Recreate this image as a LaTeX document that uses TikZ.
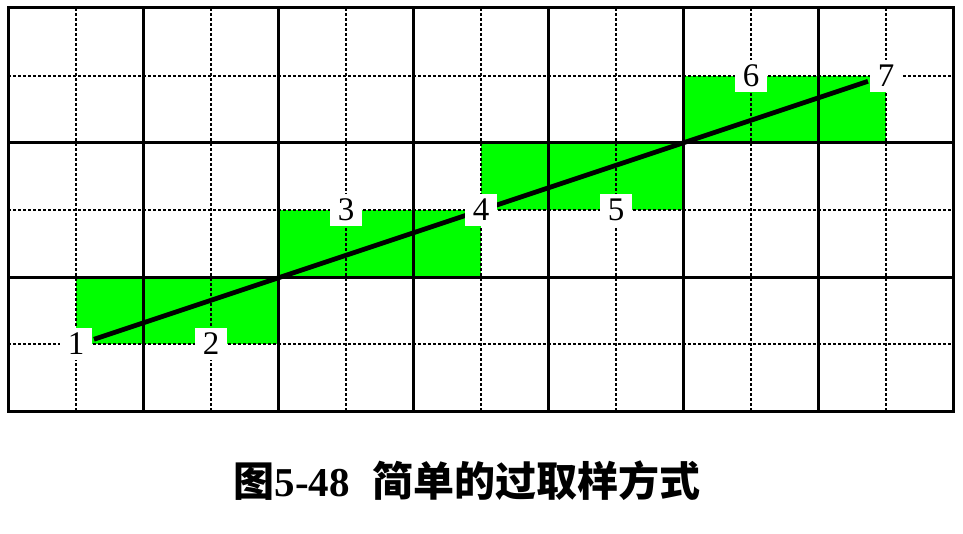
\documentclass[tikz,border=0pt]{standalone}
\usepackage{fontspec}
\setmainfont{Liberation Serif}
\newfontfamily\cjk{Noto Sans CJK SC}
\definecolor{cellgreen}{RGB}{0,255,0}
\tikzset{
  cell/.style={fill=cellgreen, draw=none},
  subgrid/.style={line width=1.5pt, dash pattern=on 3pt off 2pt},
  maingrid/.style={line width=3pt},
  sampleline/.style={line width=4.8pt},
  num/.style={fill=white, inner sep=0pt, minimum width=32pt, minimum height=32pt, font=\fontsize{33}{33}\selectfont},
  caption/.style={font=\fontsize{41}{41}\selectfont\bfseries}
}
\begin{document}
\begin{tikzpicture}[x=1pt,y=-1pt]
\useasboundingbox (0,0) rectangle (963,534);
% green cells
\fill[cell] (76,278) rectangle (278,344);
\fill[cell] (278,210) rectangle (481,278);
\fill[cell] (481,143) rectangle (683,210);
\fill[cell] (683,76) rectangle (886,143);
% dashed sub grid
\foreach \x in {76,211,346,481,616,751,886} \draw[subgrid] (\x,8) -- (\x,411);
\foreach \y in {76,210,344} \draw[subgrid] (8,\y) -- (953,\y);
% main grid
\foreach \x in {143,278,413,548,683,818} \draw[maingrid] (\x,8) -- (\x,411);
\foreach \y in {143,278} \draw[maingrid] (8,\y) -- (953,\y);
\draw[maingrid] (8,8) rectangle (953,411);
% sample line
\coordinate (pA) at (94,339.3);
\coordinate (pB) at (868,81.3);
\draw[sampleline] (pA) -- (pB);
% labels
\node[num] (n1) at (76,344) {1};
\node[num] (n2) at (211,344) {2};
\node[num] (n3) at (346,210) {3};
\node[num] (n4) at (481,210) {4};
\node[num] (n5) at (616,210) {5};
\node[num] (n6) at (751,76) {6};
\node[num] (n7) at (886,76) {7};
% caption
\node[caption] (cap) at (467,481) {{\cjk 图}5-48\hspace{0.55em}{\cjk 简单的过取样方式}};
\end{tikzpicture}
\end{document}
